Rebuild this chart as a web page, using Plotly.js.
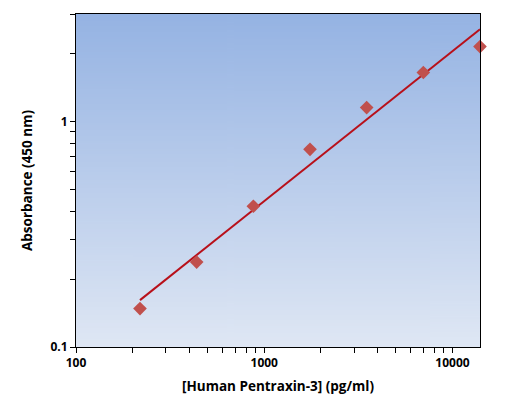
<!DOCTYPE html>
<html>
<head>
<meta charset="utf-8">
<script src="https://cdn.plot.ly/plotly-3.0.1.min.js"></script>
<style>
  html, body { margin: 0; padding: 0; background: #fff; }
  #chart { width: 520px; height: 414px; }
</style>
</head>
<body>
<div id="chart"></div>
<script>
// Данные стандартной кривой
const concentration = [218.75, 437.5, 875, 1750, 3500, 7000, 14000];
const absorbance = [0.148, 0.238, 0.421, 0.753, 1.153, 1.65, 2.15];

const xTickVals = [100, 1000, 10000];
const xTickText = ["100", "1000", "10000"];
const yTickVals = [0.1, 1];
const yTickText = ["0.1", "1"];

const FONT = "'Open Sans', 'DejaVu Sans', sans-serif";

// Линейная регрессия в лог-лог координатах
function logFit(xs, ys) {
  const lx = xs.map(Math.log10);
  const ly = ys.map(Math.log10);
  const n = lx.length;
  const mx = lx.reduce((a, b) => a + b, 0) / n;
  const my = ly.reduce((a, b) => a + b, 0) / n;
  let sxy = 0, sxx = 0;
  for (let i = 0; i < n; i++) {
    sxy += (lx[i] - mx) * (ly[i] - my);
    sxx += (lx[i] - mx) * (lx[i] - mx);
  }
  const sl = sxy / sxx;
  const off = my - sl * mx;
  return xs.map((x) => Math.pow(10, off + sl * Math.log10(x)));
}

// Градиентный фон области построения
function gradientImage() {
  const c = document.createElement("canvas");
  c.width = 4;
  c.height = 256;
  const ctx = c.getContext("2d");
  const g = ctx.createLinearGradient(0, 0, 0, 256);
  g.addColorStop(0, "#95b3e3");
  g.addColorStop(1, "#dfe7f4");
  ctx.fillStyle = g;
  ctx.fillRect(0, 0, 4, 256);
  return c.toDataURL("image/png");
}

const fitTrace = {
  x: concentration,
  y: logFit(concentration, absorbance),
  mode: "lines",
  type: "scatter",
  line: { color: "#b8101a", width: 2 },
  hoverinfo: "skip",
};

const pointsTrace = {
  x: concentration,
  y: absorbance,
  mode: "markers",
  type: "scatter",
  cliponaxis: false,
  marker: { symbol: "diamond", size: 10.5, color: "#c0504d" },
};

const range = {
  x: [Math.log10(100), Math.log10(14000)],
  y: [Math.log10(0.1), Math.log10(3)],
};

const layout = {
  width: 520,
  height: 414,
  margin: { l: 76, r: 40, t: 14, b: 67 },
  paper_bgcolor: "#ffffff",
  plot_bgcolor: "rgba(0,0,0,0)",
  showlegend: false,
  font: { family: FONT, color: "#000", size: 12 },
  images: [
    {
      source: gradientImage(),
      xref: "paper",
      yref: "paper",
      x: 0,
      y: 1,
      sizex: 1,
      sizey: 1,
      sizing: "stretch",
      xanchor: "left",
      yanchor: "top",
      layer: "below",
    },
  ],
  xaxis: {
    type: "log",
    range: range.x,
    tickvals: xTickVals,
    ticktext: xTickText,
    ticks: "outside",
    ticklen: 5,
    tickcolor: "#000",
    showgrid: false,
    zeroline: false,
    showline: true,
    linecolor: "#000",
    linewidth: 1,
    mirror: true,
    tickfont: { family: FONT, size: 12, weight: "bold" },
    minor: { ticks: "outside", ticklen: 5, tickcolor: "#000", dtick: "D1", showgrid: false },
    title: {
      text: "[Human Pentraxin-3] (pg/ml)",
      font: { family: FONT, size: 13.5, weight: "bold" },
      standoff: 11,
    },
  },
  yaxis: {
    type: "log",
    range: range.y,
    tickvals: yTickVals,
    ticktext: yTickText,
    ticks: "outside",
    ticklen: 5,
    tickcolor: "#000",
    showgrid: false,
    zeroline: false,
    showline: true,
    linecolor: "#000",
    linewidth: 1,
    mirror: true,
    tickfont: { family: FONT, size: 12, weight: "bold" },
    minor: { ticks: "outside", ticklen: 5, tickcolor: "#000", dtick: "D1", showgrid: false },
    title: {
      text: "Absorbance (450 nm)",
      font: { family: FONT, size: 13.5, weight: "bold" },
      standoff: 14,
    },
  },
  // Внутренние засечки основных делений
  xaxis2: {
    type: "log",
    overlaying: "x",
    range: range.x,
    tickvals: xTickVals,
    ticks: "inside",
    ticklen: 5,
    tickcolor: "#000",
    showticklabels: false,
    showgrid: false,
    zeroline: false,
    showline: false,
    side: "bottom",
  },
  yaxis2: {
    type: "log",
    overlaying: "y",
    range: range.y,
    tickvals: yTickVals,
    ticks: "inside",
    ticklen: 5,
    tickcolor: "#000",
    showticklabels: false,
    showgrid: false,
    zeroline: false,
    showline: false,
    side: "left",
  },
};

const config = { staticPlot: true, displayModeBar: false };

Plotly.newPlot("chart", [fitTrace, pointsTrace], layout, config);
</script>
</body>
</html>
